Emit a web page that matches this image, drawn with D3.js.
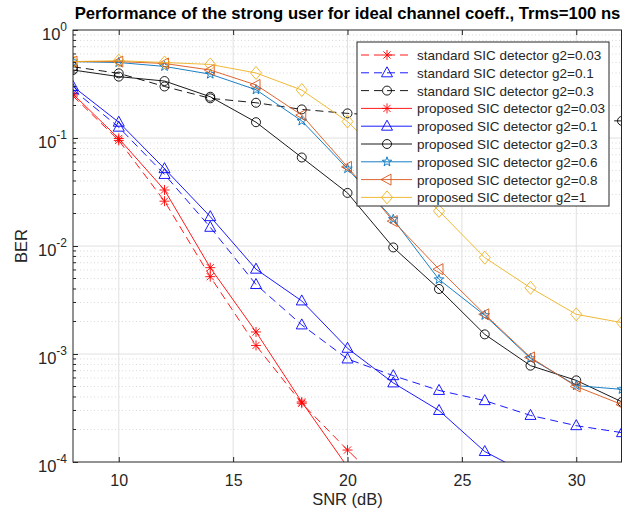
<!DOCTYPE html>
<html>
<head>
<meta charset="utf-8">
<script src="https://cdn.jsdelivr.net/npm/d3@7"></script>
<style>
    body { margin: 0; background: #fff; }
    text { font-family: "Liberation Sans", Arial, sans-serif; fill: #262626; }
</style>
</head>
<body>
<div id="chart"></div>
<script>
var svgWidth = 622;
var svgHeight = 515;

var margin = { top: 30, right: 0, bottom: 53, left: 73 };
var width = svgWidth - margin.left - margin.right;
var height = svgHeight - margin.top - margin.bottom;

// SNR points (dB)
var snr = [8, 10, 12, 14, 16, 18, 20, 22, 24, 26, 28, 30, 32];

// BER values
var stdG003 = [0.245, 0.095, 0.026, 0.0052, 0.0012, 0.00035, 0.000129, 0.00005];
var stdG01 = [0.28, 0.126, 0.046, 0.0149, 0.0044, 0.00186, 0.0009, 0.00063, 0.00046, 0.00037, 0.00027, 0.000217, 0.000187];
var stdG03 = [0.457, 0.397, 0.30, 0.233, 0.212, 0.184, 0.169, 0.16, 0.155, 0.15, 0.147, 0.145, 0.144];
var propG003 = [0.255, 0.099, 0.033, 0.0063, 0.0016, 0.00036, 0.00009];
var propG01 = [0.30, 0.14, 0.052, 0.0187, 0.0061, 0.0031, 0.00113, 0.00054, 0.0003, 0.000125, 0.000075];
var propG03 = [0.426, 0.37, 0.337, 0.241, 0.14, 0.066, 0.031, 0.0097, 0.0040, 0.00152, 0.00078, 0.00057, 0.00036];
var propG06 = [0.51, 0.50, 0.46, 0.39, 0.28, 0.144, 0.052, 0.0177, 0.0049, 0.00228, 0.00091, 0.00051, 0.00047];
var propG08 = [0.51, 0.51, 0.49, 0.426, 0.31, 0.163, 0.054, 0.017, 0.0061, 0.00233, 0.00093, 0.0005, 0.00034];
var propG1 = [0.51, 0.52, 0.50, 0.48, 0.40, 0.278, 0.142, 0.055, 0.0211, 0.0078, 0.0041, 0.00233, 0.00195];

var labels = [
    "standard SIC detector g2=0.03",
    "standard SIC detector g2=0.1",
    "standard SIC detector g2=0.3",
    "proposed SIC detector g2=0.03",
    "proposed SIC detector g2=0.1",
    "proposed SIC detector g2=0.3",
    "proposed SIC detector g2=0.6",
    "proposed SIC detector g2=0.8",
    "proposed SIC detector g2=1"
];

var xTicks = [10, 15, 20, 25, 30];
var yTicks = [1e-4, 1e-3, 1e-2, 1e-1, 1];

var series = [
    { values: stdG003, color: "#ff0000", dash: true, marker: "asterisk" },
    { values: stdG01, color: "#0000ff", dash: true, marker: "triangle" },
    { values: stdG03, color: "#000000", dash: true, marker: "circle" },
    { values: propG003, color: "#ff0000", dash: false, marker: "asterisk" },
    { values: propG01, color: "#0000ff", dash: false, marker: "triangle" },
    { values: propG03, color: "#000000", dash: false, marker: "circle" },
    { values: propG06, color: "#0072bd", dash: false, marker: "pentagram" },
    { values: propG08, color: "#d95319", dash: false, marker: "left" },
    { values: propG1, color: "#edb120", dash: false, marker: "diamond" }
];
series.forEach((s, i) => s.label = labels[i]);

function markerPath(type)
{
    if (type === "asterisk")
        return "M-5,0H5M0,-5V5M-3.6,-3.6L3.6,3.6M-3.6,3.6L3.6,-3.6";
    if (type === "triangle")
        return "M0,-6L5.5,4L-5.5,4Z";
    if (type === "circle")
        return "M4.5,0A4.5,4.5 0 1,1 -4.5,0A4.5,4.5 0 1,1 4.5,0Z";
    if (type === "left")
        return "M-6,0L4,-5.5L4,5.5Z";
    if (type === "diamond")
        return "M0,-6.5L5.5,0L0,6.5L-5.5,0Z";
    // pentagram
    var pts = [];
    for (var k = 0; k < 10; k++)
    {
        var r = k % 2 === 0 ? 5 : 2;
        var a = -Math.PI / 2 + k * Math.PI / 5;
        pts.push([r * Math.cos(a), r * Math.sin(a)]);
    }
    return "M" + pts.map(p => p[0].toFixed(2) + "," + p[1].toFixed(2)).join("L") + "Z";
}

var svg = d3.select("#chart")
    .append("svg")
    .attr("width", svgWidth)
    .attr("height", svgHeight);

svg.append("defs").append("clipPath")
    .attr("id", "plotClip")
    .append("rect")
    .attr("x", 0).attr("y", 0)
    .attr("width", width).attr("height", height);

var chartGroup = svg.append("g")
    .attr("transform", `translate(${margin.left}, ${margin.top})`);

var xScale = d3.scaleLinear().domain([8, 32]).range([0, width]);
var yScale = d3.scaleLog().domain([1e-4, 1]).range([height, 0]);

// minor grid (dotted)
var minorVals = [];
for (var e = -4; e < 0; e++)
    for (var m = 2; m <= 9; m++)
        minorVals.push(m * Math.pow(10, e));

chartGroup.append("g")
    .selectAll("line")
    .data(minorVals)
    .enter()
    .append("line")
    .attr("x1", 0).attr("x2", width)
    .attr("y1", d => yScale(d)).attr("y2", d => yScale(d))
    .attr("stroke", "#c8c8c8")
    .attr("stroke-width", 0.7)
    .attr("stroke-dasharray", "1,2.5");

// major grid
chartGroup.append("g")
    .selectAll("line")
    .data(xTicks)
    .enter()
    .append("line")
    .attr("x1", d => xScale(d)).attr("x2", d => xScale(d))
    .attr("y1", 0).attr("y2", height)
    .attr("stroke", "#e0e0e0");

chartGroup.append("g")
    .selectAll("line")
    .data(yTicks.slice(1, 4))
    .enter()
    .append("line")
    .attr("x1", 0).attr("x2", width)
    .attr("y1", d => yScale(d)).attr("y2", d => yScale(d))
    .attr("stroke", "#e0e0e0");

// data
var plot = chartGroup.append("g").attr("clip-path", "url(#plotClip)");

var line = d3.line()
    .x(d => xScale(d.x))
    .y(d => yScale(d.y));

series.forEach(s =>
{
    var pts = s.values.map((v, i) => ({ x: snr[i], y: v }));
    plot.append("path")
        .datum(pts)
        .attr("d", line)
        .attr("fill", "none")
        .attr("stroke", s.color)
        .attr("stroke-width", 0.9)
        .attr("stroke-dasharray", s.dash ? "8,5" : null);

    plot.append("g")
        .selectAll("path")
        .data(pts.filter(d => d.y >= 1e-4))
        .enter()
        .append("path")
        .attr("transform", d => `translate(${xScale(d.x)}, ${yScale(d.y)})`)
        .attr("d", markerPath(s.marker))
        .attr("fill", "none")
        .attr("stroke", s.color)
        .attr("stroke-width", 0.9);
});

// axes box and ticks
chartGroup.append("rect")
    .attr("x", 0).attr("y", 0)
    .attr("width", width - 0.5).attr("height", height)
    .attr("fill", "none")
    .attr("stroke", "#262626")
    .attr("stroke-width", 1);

var bottomAxis = d3.axisBottom(xScale)
    .tickValues(xTicks)
    .tickSizeInner(-5)
    .tickSizeOuter(0)
    .tickPadding(13);

var xAxis = chartGroup.append("g")
    .attr("transform", `translate(0, ${height})`)
    .call(bottomAxis);
xAxis.select(".domain").remove();
xAxis.selectAll("line").attr("stroke", "#262626");
xAxis.selectAll("text")
    .style("font-size", "16px")
    .attr("fill", "#262626");

var topAxis = d3.axisTop(xScale)
    .tickValues(xTicks)
    .tickSizeInner(-5)
    .tickSizeOuter(0)
    .tickFormat("");
var xTop = chartGroup.append("g").call(topAxis);
xTop.select(".domain").remove();
xTop.selectAll("line").attr("stroke", "#262626");

var leftAxis = d3.axisLeft(yScale)
    .tickValues(yTicks)
    .tickSizeInner(-5)
    .tickSizeOuter(0)
    .tickFormat("");
var yAxis = chartGroup.append("g").call(leftAxis);
yAxis.select(".domain").remove();
yAxis.selectAll("line").attr("stroke", "#262626");

chartGroup.append("g")
    .selectAll("line")
    .data(minorVals)
    .enter()
    .append("line")
    .attr("x1", 0).attr("x2", 3)
    .attr("y1", d => yScale(d)).attr("y2", d => yScale(d))
    .attr("stroke", "#262626");

// y tick labels as 10^n
var yLabels = chartGroup.append("g")
    .selectAll("text")
    .data(yTicks)
    .enter()
    .append("text")
    .attr("x", -6)
    .attr("y", d => yScale(d) + 10)
    .attr("text-anchor", "end")
    .style("font-size", "16.5px");

yLabels.append("tspan").text("10");
yLabels.append("tspan")
    .attr("dy", -9)
    .style("font-size", "12px")
    .text(d => Math.round(Math.log10(d)));

// axis labels and title
chartGroup.append("text")
    .attr("x", width / 2)
    .attr("y", height + 43)
    .attr("text-anchor", "middle")
    .style("font-size", "16.5px")
    .text("SNR (dB)");

chartGroup.append("text")
    .attr("transform", "rotate(-90)")
    .attr("x", -height / 2)
    .attr("y", -46)
    .attr("text-anchor", "middle")
    .style("font-size", "16.5px")
    .text("BER");

svg.append("text")
    .attr("x", margin.left + width / 2)
    .attr("y", 19)
    .attr("text-anchor", "middle")
    .style("font-size", "16.7px")
    .style("font-weight", "bold")
    .style("fill", "#000")
    .text("Performance of the strong user for ideal channel coeff., Trms=100 ns");

// legend
var legend = svg.append("g")
    .attr("transform", "translate(357, 42)");

legend.append("rect")
    .attr("x", 0).attr("y", 0)
    .attr("width", 252).attr("height", 164)
    .attr("fill", "#fff")
    .attr("stroke", "#262626")
    .attr("stroke-width", 1);

var rows = legend.selectAll("g.row")
    .data(series)
    .enter()
    .append("g")
    .attr("class", "row")
    .attr("transform", (d, i) => `translate(0, ${13 + i * 17.8})`);

rows.append("line")
    .attr("x1", 4).attr("x2", 55)
    .attr("y1", 0).attr("y2", 0)
    .attr("stroke", d => d.color)
    .attr("stroke-width", 0.9)
    .attr("stroke-dasharray", d => d.dash ? "8,5" : null);

rows.append("path")
    .attr("transform", "translate(30, 0)")
    .attr("d", d => markerPath(d.marker))
    .attr("fill", "none")
    .attr("stroke", d => d.color)
    .attr("stroke-width", 0.9);

rows.append("text")
    .attr("x", 60)
    .attr("y", 5)
    .style("font-size", "13.5px")
    .text(d => d.label);
</script>
</body>
</html>
